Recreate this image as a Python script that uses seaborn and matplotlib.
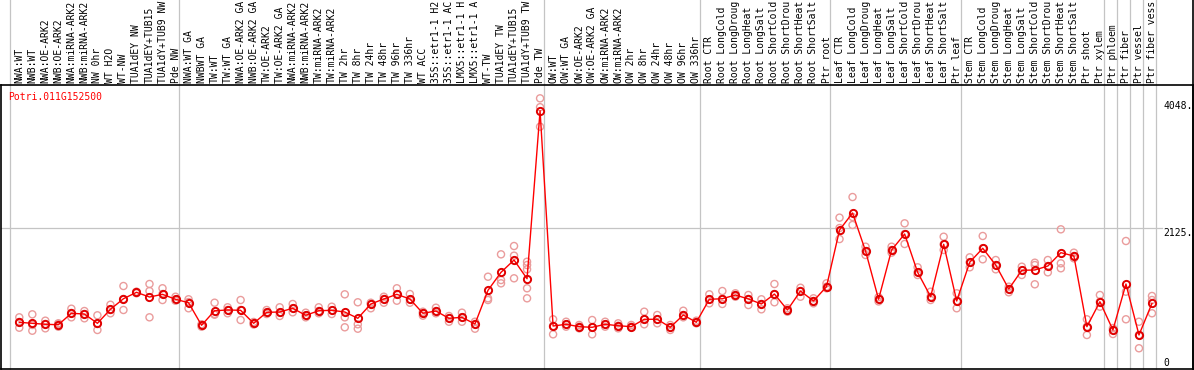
import numpy as np
import pandas as pd
import seaborn as sns
import matplotlib.pyplot as plt

# sample names (as shown, truncated to 14 chars)
labels = [
    "NWA:WT", "NWB:WT", "NWA:OE-ARK2", "NWB:OE-ARK2", "NWA:miRNA-ARK2", "NWB:miRNA-ARK2",
    "NW 0hr", "WT H2O", "WT-NW", "TUA1dEY NW", "TUA1dEY+TUB15", "TUA1dY+TUB9 NW", "Pde NW",
    "NWA:WT GA", "NWBWT GA", "TW:WT", "TW:WT GA", "NWA:OE-ARK2 GA", "NWB:OE-ARK2 GA",
    "TW:OE-ARK2", "TW:OE-ARK2 GA", "NWA:miRNA-ARK2", "NWB:miRNA-ARK2", "TW:miRNA-ARK2",
    "TW:miRNA-ARK2", "TW 2hr", "TW 8hr", "TW 24hr", "TW 48hr", "TW 96hr", "TW 336hr",
    "WT ACC", "35S::etr1-1 H2", "35S::etr1-1 AC", "LMX5::etr1-1 H", "LMX5::etr1-1 A",
    "WT-TW", "TUA1dEY TW", "TUA1dEY+TUB15", "TUA1dY+TUB9 TW", "Pde TW",
    "OW:WT", "OW:WT GA", "OW:OE-ARK2", "OW:OE-ARK2 GA", "OW:miRNA-ARK2", "OW:miRNA-ARK2",
    "OW 2hr", "OW 8hr", "OW 24hr", "OW 48hr", "OW 96hr", "OW 336hr",
    "Root CTR", "Root LongCold", "Root LongDroug", "Root LongHeat", "Root LongSalt",
    "Root ShortCold", "Root ShortDrou", "Root ShortHeat", "Root ShortSalt", "Ptr root",
    "Leaf CTR", "Leaf LongCold", "Leaf LongDroug", "Leaf LongHeat", "Leaf LongSalt",
    "Leaf ShortCold", "Leaf ShortDrou", "Leaf ShortHeat", "Leaf ShortSalt", "Ptr leaf",
    "Stem CTR", "Stem LongCold", "Stem LongDroug", "Stem LongHeat", "Stem LongSalt",
    "Stem ShortCold", "Stem ShortDrou", "Stem ShortHeat", "Stem ShortSalt", "Ptr shoot",
    "Ptr xylem", "Ptr phloem", "Ptr fiber", "Ptr vessel", "Ptr fiber vess",
]

# mean expression per sample
means = [
    589, 572, 556, 549, 736, 724, 572, 801, 974, 1079, 1002, 1046, 965,
    909, 540, 778, 790, 785, 572, 752, 757, 818, 703, 778, 785, 757, 654, 888,
    970, 1046, 970, 736, 773, 654, 670, 561, 1112, 1406, 1607, 1301, 4048,
    528, 556, 517, 507, 556, 533, 517, 638, 638, 507, 708, 589,
    965, 974, 1035, 970, 888, 1051, 790, 1100, 937, 1171,
    2098, 2376, 1754, 965, 1771, 2032, 1406, 1007, 1864, 937,
    1570, 1799, 1525, 1133, 1439, 1444, 1509, 1727, 1673, 517,
    925, 463, 1215, 381, 899,
]

# replicate values per sample
reps = [
    [670, 594, 500], [719, 545, 451], [615, 561, 490], [572, 561, 517], [811, 741, 670],
    [773, 724, 654], [703, 561, 463], [876, 790, 736], [1182, 970, 790], [1089, 1084, 1063],
    [1215, 1100, 670], [1145, 1051, 953], [1007, 965, 942],
    [965, 920, 818], [556, 545, 517], [909, 724, 713], [834, 790, 736], [953, 790, 626],
    [594, 572, 553], [790, 752, 724], [834, 746, 692], [888, 818, 752], [746, 703, 670],
    [834, 773, 736], [844, 785, 724], [1046, 670, 507], [916, 556, 484], [909, 888, 818],
    [1007, 970, 909], [1145, 1051, 942], [1051, 961, 909], [762, 736, 697], [827, 773, 736],
    [692, 659, 598], [746, 670, 598], [598, 561, 484], [1334, 981, 953], [1700, 1280, 1226],
    [1836, 1678, 1308], [1579, 1525, 1455, 1145, 981], [4251, 4106, 3787],
    [638, 528, 392], [598, 556, 517], [545, 517, 490], [626, 507, 392], [598, 556, 517],
    [572, 533, 490], [545, 517, 507], [762, 638, 556], [708, 638, 572], [545, 507, 463],
    [778, 708, 670], [615, 589, 572],
    [1046, 965, 899], [1100, 974, 888], [1063, 1035, 1007], [1035, 970, 871], [965, 888, 801],
    [1215, 1051, 916], [818, 790, 762], [1154, 1100, 1007], [981, 937, 899], [1226, 1171, 1145],
    [2300, 2130, 1950], [2637, 2311, 2180], [1825, 1754, 1689], [1000, 965, 930], [1825, 1771, 1727],
    [2207, 2032, 1869], [1488, 1406, 1362], [1089, 1007, 953], [1988, 1864, 1771], [1063, 937, 818],
    [1651, 1570, 1488], [2000, 1799, 1619], [1607, 1525, 1455], [1171, 1133, 1079], [1498, 1439, 1362],
    [1563, 1525, 1210], [1607, 1509, 1406], [2109, 1553, 1472], [1727, 1673, 1635], [638, 517, 381],
    [1035, 925, 844], [495, 463, 397], [1918, 1089, 638], [598, 381, 164], [1019, 953, 736],
]

# group ends (vertical separators)
group_lines = [-0.7, 12.3, 40.3, 52.3, 62.3, 72.3, 83.3, 84.3, 85.3, 86.3, 87.3]
ytick_vals = [0, 2125, 4048]

mean_df = pd.DataFrame({"idx": np.arange(len(means)), "expr": means})
rep_df = pd.DataFrame(
    [(i, v) for i, r in enumerate(reps) for v in r], columns=["idx", "expr"]
)

plt.rcParams["font.family"] = ["DejaVu Sans Mono"]
fig = plt.figure(figsize=(11.94, 3.70), dpi=100)
ax = fig.add_axes([1 / 1194, 1 / 370, 1192 / 1194, 284 / 370])

for gx in group_lines:
    ax.axvline(gx, ymin=0, ymax=1.3, color="#c4c4c4", lw=0.9, clip_on=False, zorder=0)
ax.axhline(2125, xmax=1161 / 1192, color="#c4c4c4", lw=0.9, zorder=0)
ax.plot([1, 1], [0, 1.3], transform=ax.transAxes, color="black", lw=1.2, clip_on=False)

sns.scatterplot(data=rep_df, x="idx", y="expr", ax=ax, marker="o", s=26,
                facecolor="none", edgecolor="#ea9c9c", linewidth=1.0, zorder=2)
sns.lineplot(data=mean_df, x="idx", y="expr", ax=ax, color="red", lw=1,
             marker="o", markersize=5.2, markerfacecolor="none",
             markeredgecolor="#e00000", markeredgewidth=1.4, zorder=3)

ax.set_xlim(-1.405, 90.15)
ax.set_ylim(-175, 4469)
ax.xaxis.tick_top()
ax.set_xticks(range(len(labels)))
ax.set_xticklabels(labels, rotation=90, fontsize=7)
ax.tick_params(axis="x", length=0, pad=1.5)
ax.yaxis.tick_right()
ax.set_yticks(ytick_vals)
ax.set_yticklabels(["0", "2125.", "4048."], fontsize=7)
ax.tick_params(axis="y", length=0, pad=-21.6)
ytl = ax.get_yticklabels()
ytl[0].set_va("top")
ytl[1].set_va("top")
ytl[2].set_va("bottom")
ax.set_xlabel("")
ax.set_ylabel("")
for s in ax.spines.values():
    s.set_linewidth(1.2)

fig.text(8 / 1194, 1 - 97 / 370, "Potri.011G152500", color="red", fontsize=7, va="center")

fig.savefig("out.png", dpi=100)
